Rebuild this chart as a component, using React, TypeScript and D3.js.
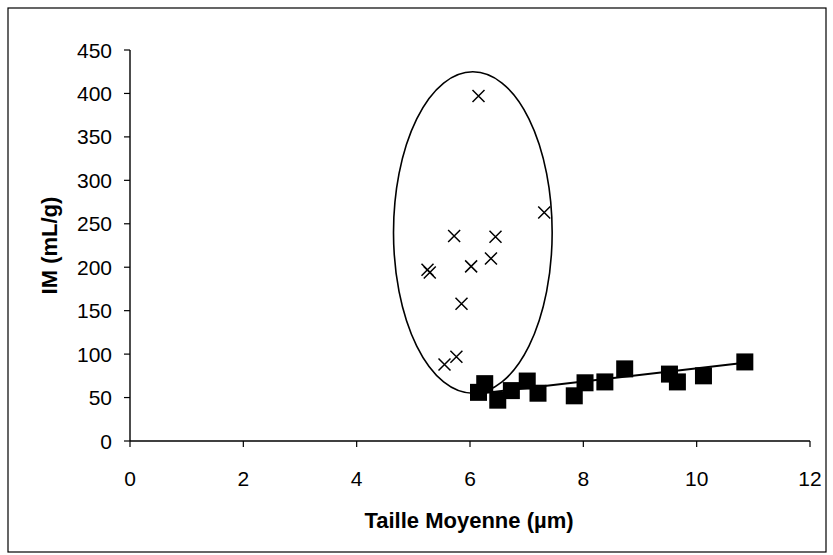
import * as d3 from 'd3'

// group 1: crosses (inside the ellipse)
const crossX = [6.15, 7.31, 5.72, 6.45, 6.37, 6.02, 5.25, 5.29, 5.85, 5.76, 5.55]
const crossY = [397, 263, 236, 235, 210, 201, 197, 194, 158, 97, 88]

// group 2: filled squares
const squareX = [6.15, 6.26, 6.49, 6.73, 7.01, 7.2, 7.84, 8.03, 8.38, 8.73, 9.52, 9.66, 10.12, 10.85]
const squareY = [56, 66, 47, 58, 69, 55, 52, 67, 68, 83, 77, 68, 75, 91]

// trend line for the squares
const trendX = [6.1, 10.85]
const trendY = [54, 90]

// hand-drawn ellipse around the crosses (data units)
const ellipseCenter = [6.05, 240]
const ellipseRadius = [1.4, 185]

const xTicks = [0, 2, 4, 6, 8, 10, 12]
const yTicks = [0, 50, 100, 150, 200, 250, 300, 350, 400, 450]

export default function App() {
  const width = 833
  const height = 555
  const x = d3.scaleLinear([0, 12], [130, 810])
  const y = d3.scaleLinear([0, 450], [441, 50])
  const font = '"Liberation Sans", Arial, sans-serif'

  const trend = d3.line<number>()
    .x(i => x(trendX[i]))
    .y(i => y(trendY[i]))(trendX.map((_, i) => i))

  const cx = x(ellipseCenter[0])
  const cy = y(ellipseCenter[1])
  const rx = x(ellipseCenter[0] + ellipseRadius[0]) - cx
  const ry = cy - y(ellipseCenter[1] + ellipseRadius[1])

  return (
    <svg width={width} height={height} style={{position: 'absolute', left: 0, top: 0, background: '#fff'}}
         fontFamily={font}>
      <rect x={8} y={8} width={818} height={544} fill="#fff" stroke="#000" strokeWidth={1.2}/>

      {/* axes */}
      <line x1={x(0)} x2={x(0)} y1={y(0)} y2={y(450)} stroke="#000" strokeWidth={1.4}/>
      <line x1={x(0)} x2={x(12)} y1={y(0)} y2={y(0)} stroke="#000" strokeWidth={1.4}/>
      {yTicks.map(t => (
        <g key={'y' + t}>
          <line x1={x(0) - 6} x2={x(0)} y1={y(t)} y2={y(t)} stroke="#000" strokeWidth={1.2}/>
          <text x={112} y={y(t)} dy="0.36em" textAnchor="end" fontSize={21}>{t}</text>
        </g>
      ))}
      {xTicks.map(t => (
        <g key={'x' + t}>
          <line x1={x(t)} x2={x(t)} y1={y(0)} y2={y(0) + 6} stroke="#000" strokeWidth={1.2}/>
          <text x={x(t)} y={478} dy="0.36em" textAnchor="middle" fontSize={21}>{t}</text>
        </g>
      ))}

      <text x={469} y={520} dy="0.36em" textAnchor="middle" fontSize={22} fontWeight="bold">Taille Moyenne (µm)</text>
      <text transform={`translate(49,${(y(0) + y(450)) / 2}) rotate(-90)`} dy="0.36em" textAnchor="middle"
            fontSize={22} fontWeight="bold">IM (mL/g)</text>

      {/* ellipse */}
      <ellipse cx={cx} cy={cy} rx={rx} ry={ry} fill="none" stroke="#000" strokeWidth={1.6}/>

      {/* trend line */}
      <path d={trend ?? ''} fill="none" stroke="#000" strokeWidth={2}/>

      {/* squares */}
      {squareX.map((v, i) => (
        <rect key={'s' + i} x={x(v) - 8.5} y={y(squareY[i]) - 8.5} width={17} height={17} fill="#000"/>
      ))}

      {/* crosses */}
      {crossX.map((v, i) => (
        <path key={'c' + i}
              d={`M${x(v) - 6},${y(crossY[i]) - 6}L${x(v) + 6},${y(crossY[i]) + 6}M${x(v) - 6},${y(crossY[i]) + 6}L${x(v) + 6},${y(crossY[i]) - 6}`}
              stroke="#000" strokeWidth={1.5}/>
      ))}
    </svg>
  )
}
